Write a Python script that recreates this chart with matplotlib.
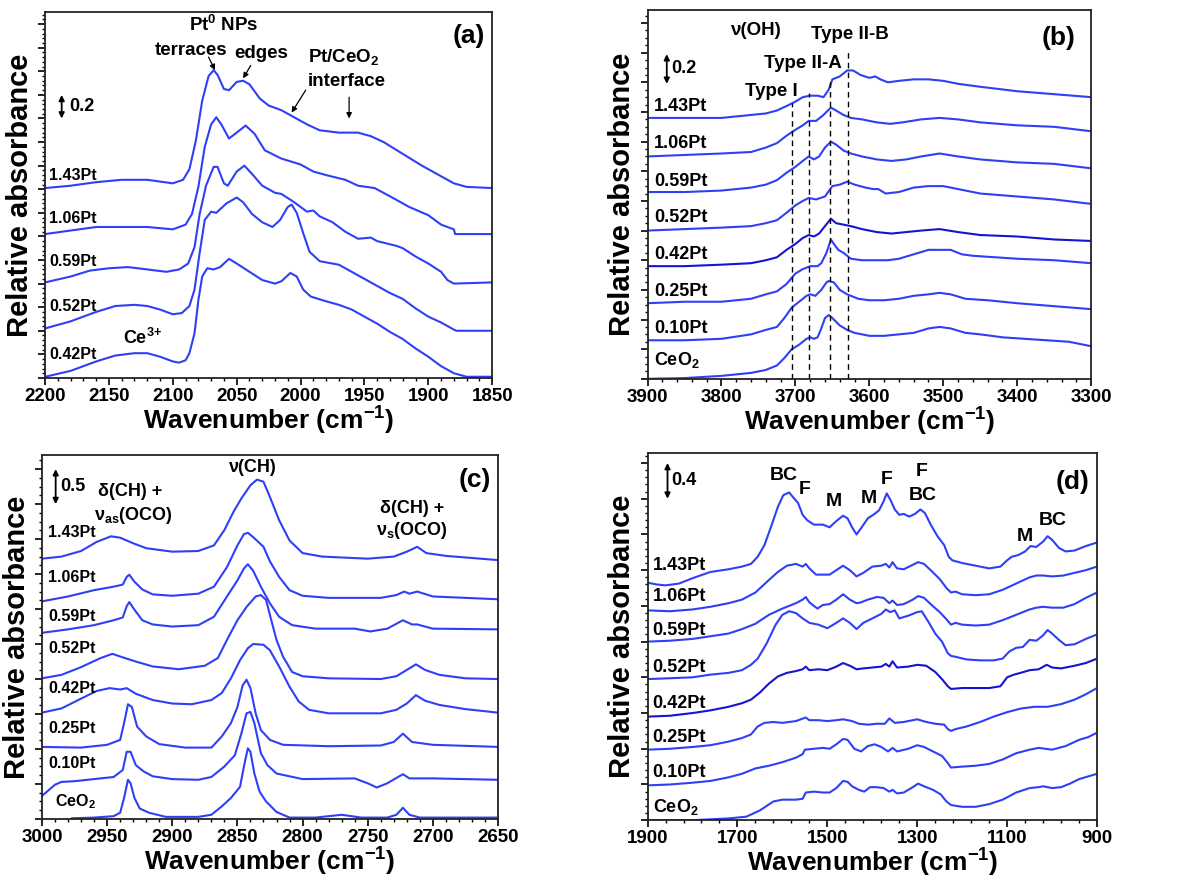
import numpy as np
import matplotlib
matplotlib.use('Agg')
import matplotlib.pyplot as plt
from matplotlib.ticker import MultipleLocator

plt.rcParams['font.family'] = ['Liberation Sans', 'DejaVu Sans']
plt.rcParams['font.weight'] = 'bold'
plt.rcParams['mathtext.fontset'] = 'custom'
plt.rcParams['mathtext.rm'] = 'Liberation Sans:bold'
plt.rcParams['mathtext.it'] = 'Liberation Sans:bold'
plt.rcParams['mathtext.bf'] = 'Liberation Sans:bold'
plt.rcParams['mathtext.default'] = 'rm'

BLUE = '#2f3ff8'
DARK = '#1414d2'

# ---------------- (a) CO region ----------------
a_042 = [(2200, 0.01), (2180, 0.06), (2160, 0.14), (2145, 0.19), (2130, 0.21), (2120, 0.21), (2110, 0.18),
         (2100, 0.14), (2095, 0.13), (2090, 0.15), (2087, 0.21), (2083, 0.38), (2080, 0.66), (2077, 0.86),
         (2073, 0.93), (2068, 0.92), (2063, 0.94), (2056, 1.01), (2050, 0.97), (2040, 0.90), (2030, 0.83),
         (2020, 0.80), (2015, 0.82), (2008, 0.89), (2003, 0.86), (1998, 0.75), (1992, 0.69), (1980, 0.65),
         (1970, 0.62), (1960, 0.58), (1950, 0.52), (1940, 0.46), (1930, 0.39), (1920, 0.33), (1910, 0.25),
         (1900, 0.18), (1890, 0.10), (1880, 0.04), (1870, 0.01), (1850, 0.01)]
a_052 = [(2200, 0.42), (2180, 0.48), (2160, 0.56), (2145, 0.61), (2130, 0.62), (2120, 0.61), (2110, 0.58),
         (2100, 0.54), (2093, 0.55), (2087, 0.61), (2083, 0.75), (2079, 1.06), (2075, 1.34), (2070, 1.41),
         (2066, 1.40), (2058, 1.48), (2050, 1.53), (2045, 1.49), (2038, 1.39), (2030, 1.32), (2022, 1.28),
         (2016, 1.34), (2010, 1.45), (2007, 1.47), (2003, 1.40), (1998, 1.23), (1993, 1.07), (1985, 0.99),
         (1970, 0.96), (1960, 0.90), (1950, 0.84), (1940, 0.78), (1930, 0.72), (1920, 0.67), (1910, 0.59),
         (1900, 0.52), (1890, 0.47), (1880, 0.41), (1878, 0.40), (1850, 0.40)]
a_059 = [(2200, 0.81), (2180, 0.86), (2165, 0.91), (2150, 0.93), (2135, 0.94), (2120, 0.92), (2105, 0.90),
         (2095, 0.92), (2088, 0.97), (2083, 1.11), (2079, 1.39), (2074, 1.63), (2068, 1.79), (2065, 1.79),
         (2060, 1.65), (2057, 1.63), (2050, 1.75), (2044, 1.80), (2038, 1.73), (2030, 1.63), (2020, 1.57),
         (2015, 1.56), (2005, 1.49), (1995, 1.41), (1990, 1.42), (1985, 1.37), (1975, 1.32), (1965, 1.24),
         (1955, 1.18), (1945, 1.19), (1940, 1.16), (1925, 1.12), (1920, 1.10), (1910, 1.03), (1900, 0.97),
         (1890, 0.90), (1885, 0.83), (1880, 0.80), (1850, 0.81)]
a_106 = [(2200, 1.22), (2180, 1.25), (2160, 1.28), (2140, 1.28), (2120, 1.28), (2100, 1.26), (2090, 1.30),
         (2085, 1.39), (2080, 1.62), (2075, 1.96), (2070, 2.15), (2066, 2.21), (2062, 2.15), (2056, 2.03),
         (2050, 2.08), (2043, 2.14), (2036, 2.07), (2028, 1.93), (2015, 1.86), (2000, 1.81), (1990, 1.75),
         (1980, 1.72), (1965, 1.68), (1955, 1.63), (1942, 1.61), (1930, 1.54), (1915, 1.45), (1900, 1.38),
         (1890, 1.30), (1880, 1.26), (1879, 1.22), (1850, 1.22)]
a_143 = [(2200, 1.61), (2180, 1.63), (2160, 1.66), (2140, 1.68), (2120, 1.68), (2100, 1.65), (2092, 1.68),
         (2087, 1.77), (2082, 2.01), (2077, 2.35), (2072, 2.56), (2068, 2.61), (2065, 2.57), (2060, 2.45),
         (2056, 2.44), (2050, 2.51), (2045, 2.52), (2040, 2.49), (2032, 2.37), (2025, 2.31), (2015, 2.27),
         (2005, 2.21), (1995, 2.15), (1985, 2.10), (1970, 2.08), (1955, 2.08), (1945, 2.05), (1935, 2.00),
         (1920, 1.90), (1905, 1.80), (1890, 1.71), (1880, 1.65), (1870, 1.62), (1850, 1.61)]
a_names = ['0.42Pt', '0.52Pt', '0.59Pt', '1.06Pt', '1.43Pt']
a_label_y = [0.20, 0.61, 0.99, 1.35, 1.72]

# ---------------- (b) OH region ----------------
b_ceo2 = [(3900, 0.00), (3850, 0.005), (3800, 0.02), (3760, 0.04), (3740, 0.06), (3725, 0.09), (3715, 0.14),
          (3705, 0.20), (3695, 0.23), (3685, 0.27), (3680, 0.28), (3675, 0.27), (3670, 0.28), (3665, 0.34),
          (3660, 0.41), (3655, 0.43), (3650, 0.41), (3640, 0.36), (3630, 0.33), (3620, 0.31), (3600, 0.29),
          (3580, 0.29), (3560, 0.30), (3540, 0.31), (3520, 0.34), (3505, 0.35), (3490, 0.34), (3470, 0.31),
          (3450, 0.30), (3420, 0.28), (3390, 0.27), (3360, 0.26), (3330, 0.25), (3300, 0.22)]
b_010 = [(3900, 0.26), (3850, 0.26), (3800, 0.27), (3760, 0.30), (3740, 0.33), (3725, 0.35), (3715, 0.41),
         (3705, 0.48), (3695, 0.52), (3685, 0.56), (3680, 0.57), (3673, 0.56), (3665, 0.60), (3658, 0.65),
         (3655, 0.66), (3648, 0.65), (3640, 0.60), (3630, 0.57), (3615, 0.54), (3600, 0.53), (3580, 0.53),
         (3560, 0.54), (3540, 0.56), (3520, 0.57), (3505, 0.58), (3490, 0.57), (3470, 0.54), (3440, 0.53),
         (3400, 0.51), (3350, 0.49), (3300, 0.47)]
b_025 = [(3900, 0.51), (3850, 0.52), (3800, 0.52), (3760, 0.54), (3740, 0.57), (3725, 0.59), (3712, 0.64),
         (3700, 0.71), (3690, 0.74), (3680, 0.76), (3670, 0.76), (3665, 0.78), (3658, 0.85), (3652, 0.94),
         (3648, 0.91), (3642, 0.87), (3635, 0.85), (3625, 0.81), (3610, 0.80), (3590, 0.80), (3575, 0.80),
         (3560, 0.81), (3540, 0.84), (3520, 0.87), (3505, 0.87), (3490, 0.87), (3475, 0.84), (3460, 0.83),
         (3430, 0.82), (3400, 0.81), (3350, 0.80), (3300, 0.78)]
b_042 = [(3900, 0.76), (3850, 0.76), (3800, 0.77), (3760, 0.78), (3740, 0.80), (3725, 0.82), (3712, 0.87),
         (3700, 0.91), (3690, 0.95), (3682, 0.97), (3675, 0.96), (3668, 0.98), (3660, 1.03), (3652, 1.08),
         (3645, 1.05), (3635, 1.04), (3625, 1.03), (3610, 1.01), (3590, 0.99), (3570, 0.98), (3550, 0.99),
         (3530, 1.00), (3505, 1.01), (3480, 0.99), (3450, 0.97), (3400, 0.96), (3350, 0.94), (3300, 0.93)]
b_052 = [(3900, 1.00), (3850, 1.01), (3800, 1.02), (3760, 1.03), (3740, 1.05), (3725, 1.07), (3712, 1.12),
         (3700, 1.17), (3690, 1.20), (3682, 1.22), (3672, 1.21), (3660, 1.23), (3650, 1.30), (3640, 1.31),
         (3630, 1.33), (3620, 1.31), (3605, 1.29), (3595, 1.28), (3588, 1.28), (3578, 1.25), (3560, 1.26),
         (3540, 1.29), (3520, 1.30), (3500, 1.30), (3480, 1.28), (3450, 1.25), (3400, 1.23), (3350, 1.21),
         (3300, 1.18)]
b_059 = [(3900, 1.26), (3850, 1.26), (3800, 1.27), (3760, 1.29), (3740, 1.31), (3725, 1.34), (3712, 1.39),
         (3700, 1.43), (3690, 1.47), (3682, 1.50), (3675, 1.48), (3668, 1.50), (3660, 1.56), (3652, 1.60),
         (3645, 1.58), (3635, 1.54), (3625, 1.52), (3610, 1.50), (3590, 1.48), (3570, 1.47), (3550, 1.48),
         (3530, 1.50), (3505, 1.52), (3480, 1.50), (3450, 1.48), (3400, 1.46), (3350, 1.45), (3300, 1.42)]
b_106 = [(3900, 1.50), (3850, 1.51), (3800, 1.52), (3760, 1.53), (3740, 1.56), (3725, 1.59), (3712, 1.64),
         (3700, 1.68), (3690, 1.71), (3682, 1.74), (3672, 1.74), (3662, 1.78), (3652, 1.83), (3645, 1.81),
         (3635, 1.78), (3625, 1.76), (3610, 1.75), (3590, 1.73), (3572, 1.72), (3555, 1.73), (3530, 1.75),
         (3505, 1.76), (3480, 1.75), (3450, 1.73), (3400, 1.71), (3350, 1.70), (3300, 1.67)]
b_143 = [(3900, 1.76), (3850, 1.76), (3800, 1.76), (3760, 1.78), (3740, 1.79), (3725, 1.81), (3712, 1.84),
         (3700, 1.87), (3690, 1.90), (3680, 1.91), (3670, 1.91), (3662, 1.90), (3655, 1.95), (3650, 2.02),
         (3640, 2.04), (3630, 2.08), (3622, 2.08), (3612, 2.05), (3600, 2.03), (3592, 2.04), (3585, 2.02),
         (3575, 2.00), (3560, 2.01), (3540, 2.02), (3520, 2.02), (3500, 2.01), (3480, 1.99), (3450, 1.97),
         (3400, 1.94), (3350, 1.92), (3300, 1.90)]
b_names = ['CeO$_2$', '0.10Pt', '0.25Pt', '0.42Pt', '0.52Pt', '0.59Pt', '1.06Pt', '1.43Pt']
b_label_y = [0.13, 0.34, 0.59, 0.84, 1.09, 1.33, 1.59, 1.84]
b_band_x = [3705, 3682, 3653, 3629]
b_band_top = [1.86, 1.93, 2.02, 2.21]

# ---------------- (c) CH region ----------------
c_ceo2 = [(2977, 0.01), (2960, 0.02), (2945, 0.04), (2940, 0.09), (2937, 0.30), (2934, 0.56), (2932, 0.51),
          (2929, 0.30), (2925, 0.15), (2918, 0.09), (2905, 0.03), (2880, 0.03), (2870, 0.06), (2862, 0.18),
          (2855, 0.30), (2848, 0.46), (2845, 0.75), (2842, 1.01), (2840, 0.96), (2837, 0.65), (2833, 0.39),
          (2828, 0.25), (2820, 0.10), (2810, 0.02), (2790, 0.02), (2770, 0.06), (2755, 0.02), (2735, 0.02),
          (2728, 0.06), (2723, 0.16), (2718, 0.06), (2710, 0.02), (2650, 0.02)]
c_010 = [(3000, 0.33), (2990, 0.49), (2985, 0.53), (2975, 0.54), (2960, 0.57), (2945, 0.60), (2938, 0.70),
         (2935, 0.96), (2932, 0.96), (2928, 0.77), (2922, 0.68), (2915, 0.61), (2900, 0.57), (2880, 0.56),
         (2870, 0.60), (2860, 0.75), (2852, 0.91), (2847, 1.22), (2843, 1.51), (2840, 1.53), (2837, 1.37),
         (2832, 0.94), (2827, 0.77), (2820, 0.65), (2800, 0.57), (2760, 0.58), (2750, 0.51), (2743, 0.45),
         (2735, 0.51), (2723, 0.64), (2718, 0.58), (2700, 0.58), (2650, 0.56)]
c_025 = [(3000, 1.03), (2970, 1.02), (2950, 1.06), (2940, 1.13), (2937, 1.37), (2934, 1.64), (2931, 1.60),
         (2927, 1.32), (2920, 1.18), (2910, 1.07), (2890, 1.02), (2870, 1.02), (2862, 1.18), (2855, 1.37),
         (2850, 1.60), (2846, 1.91), (2843, 1.99), (2840, 1.87), (2836, 1.51), (2832, 1.27), (2825, 1.13),
         (2815, 1.06), (2780, 1.04), (2740, 1.05), (2730, 1.10), (2723, 1.22), (2716, 1.10), (2700, 1.06),
         (2650, 1.03)]
c_042 = [(3000, 1.52), (2985, 1.58), (2970, 1.72), (2958, 1.83), (2948, 1.87), (2940, 1.85), (2935, 1.87),
         (2928, 1.79), (2915, 1.70), (2900, 1.65), (2885, 1.64), (2870, 1.70), (2862, 1.80), (2855, 2.01),
         (2848, 2.27), (2842, 2.44), (2838, 2.50), (2830, 2.49), (2825, 2.41), (2818, 2.18), (2810, 1.89),
         (2803, 1.68), (2795, 1.56), (2780, 1.51), (2740, 1.51), (2728, 1.56), (2720, 1.65), (2713, 1.77),
         (2706, 1.69), (2695, 1.63), (2675, 1.57), (2650, 1.52)]
c_052 = [(3000, 2.01), (2985, 2.06), (2970, 2.17), (2955, 2.30), (2946, 2.36), (2938, 2.31), (2928, 2.25),
         (2915, 2.18), (2895, 2.14), (2875, 2.19), (2865, 2.30), (2858, 2.56), (2850, 2.84), (2843, 3.03),
         (2836, 3.18), (2832, 3.20), (2828, 3.13), (2824, 2.84), (2820, 2.56), (2815, 2.32), (2808, 2.10),
         (2800, 2.04), (2780, 2.01), (2740, 2.00), (2728, 2.04), (2720, 2.13), (2713, 2.21), (2706, 2.13),
         (2695, 2.06), (2675, 2.01), (2650, 2.00)]
c_059 = [(3000, 2.66), (2980, 2.71), (2960, 2.77), (2945, 2.84), (2938, 2.88), (2935, 3.04), (2933, 3.10),
         (2929, 2.99), (2923, 2.84), (2915, 2.78), (2900, 2.75), (2880, 2.77), (2868, 2.89), (2858, 3.18),
         (2850, 3.41), (2845, 3.58), (2842, 3.64), (2838, 3.55), (2832, 3.32), (2825, 3.08), (2818, 2.89),
         (2808, 2.77), (2790, 2.72), (2760, 2.72), (2748, 2.68), (2735, 2.72), (2723, 2.84), (2716, 2.78),
         (2712, 2.78), (2700, 2.72), (2650, 2.71)]
c_106 = [(3000, 3.11), (2980, 3.18), (2960, 3.27), (2945, 3.32), (2938, 3.35), (2935, 3.46), (2933, 3.49),
         (2929, 3.39), (2923, 3.28), (2915, 3.21), (2900, 3.19), (2880, 3.22), (2868, 3.32), (2858, 3.60),
         (2850, 3.91), (2845, 4.07), (2842, 4.09), (2838, 4.03), (2830, 3.89), (2825, 3.68), (2818, 3.46),
         (2810, 3.27), (2800, 3.19), (2780, 3.16), (2740, 3.16), (2728, 3.20), (2722, 3.25), (2718, 3.22),
         (2712, 3.25), (2700, 3.18), (2650, 3.14)]
c_143 = [(3000, 3.72), (2985, 3.75), (2970, 3.83), (2958, 3.96), (2947, 4.04), (2940, 4.02), (2930, 3.94),
         (2920, 3.87), (2900, 3.82), (2880, 3.83), (2868, 3.91), (2860, 4.13), (2853, 4.39), (2847, 4.58),
         (2840, 4.77), (2835, 4.85), (2830, 4.82), (2825, 4.60), (2818, 4.27), (2810, 3.98), (2800, 3.80),
         (2785, 3.75), (2750, 3.72), (2730, 3.75), (2720, 3.82), (2712, 3.89), (2705, 3.80), (2690, 3.76),
         (2650, 3.70)]
c_names = ['CeO$_2$', '0.10Pt', '0.25Pt', '0.42Pt', '0.52Pt', '0.59Pt', '1.06Pt', '1.43Pt']
c_label_y = [0.25, 0.80, 1.30, 1.87, 2.44, 2.90, 3.45, 4.10]

# ---------------- (d) carbonate / formate region ----------------
d_ceo2 = [(1900, 0.00), (1800, 0.00), (1760, 0.01), (1720, 0.02), (1680, 0.04), (1650, 0.11), (1620, 0.21),
          (1600, 0.23), (1570, 0.23), (1555, 0.24), (1548, 0.31), (1530, 0.32), (1510, 0.31), (1495, 0.31),
          (1480, 0.36), (1465, 0.44), (1455, 0.43), (1445, 0.38), (1430, 0.34), (1418, 0.32), (1405, 0.37),
          (1390, 0.37), (1375, 0.36), (1362, 0.32), (1355, 0.34), (1345, 0.30), (1330, 0.31), (1310, 0.37),
          (1298, 0.41), (1285, 0.38), (1265, 0.34), (1248, 0.29), (1235, 0.21), (1225, 0.17), (1200, 0.15),
          (1170, 0.15), (1140, 0.18), (1110, 0.23), (1080, 0.31), (1050, 0.36), (1030, 0.37), (1020, 0.38),
          (1000, 0.36), (980, 0.37), (960, 0.41), (940, 0.46), (920, 0.49), (900, 0.52)]
d_010 = [(1900, 0.39), (1850, 0.40), (1800, 0.42), (1760, 0.44), (1720, 0.48), (1690, 0.52), (1660, 0.58),
         (1630, 0.61), (1600, 0.65), (1570, 0.70), (1555, 0.74), (1550, 0.79), (1530, 0.80), (1510, 0.81),
         (1495, 0.80), (1480, 0.85), (1465, 0.91), (1455, 0.90), (1440, 0.80), (1425, 0.77), (1410, 0.83),
         (1395, 0.85), (1380, 0.82), (1365, 0.77), (1355, 0.81), (1345, 0.77), (1320, 0.80), (1300, 0.84),
         (1285, 0.82), (1265, 0.77), (1245, 0.72), (1232, 0.64), (1225, 0.59), (1200, 0.60), (1170, 0.61),
         (1140, 0.63), (1110, 0.68), (1080, 0.75), (1050, 0.79), (1030, 0.81), (1015, 0.80), (1000, 0.79),
         (970, 0.83), (940, 0.90), (920, 0.93), (900, 0.98)]
d_025 = [(1900, 0.79), (1850, 0.80), (1800, 0.82), (1760, 0.84), (1720, 0.88), (1690, 0.92), (1670, 0.96),
         (1655, 1.05), (1640, 1.09), (1620, 1.10), (1600, 1.09), (1570, 1.11), (1548, 1.15), (1540, 1.12),
         (1520, 1.12), (1500, 1.11), (1480, 1.12), (1465, 1.13), (1445, 1.11), (1430, 1.08), (1410, 1.07),
         (1390, 1.08), (1372, 1.08), (1362, 1.14), (1350, 1.09), (1330, 1.10), (1300, 1.13), (1280, 1.10),
         (1260, 1.08), (1240, 1.07), (1232, 1.02), (1225, 1.00), (1215, 1.02), (1190, 1.05), (1160, 1.10),
         (1130, 1.16), (1100, 1.21), (1070, 1.25), (1040, 1.27), (1010, 1.27), (980, 1.30), (950, 1.35),
         (925, 1.41), (900, 1.48)]
d_042 = [(1900, 1.16), (1850, 1.17), (1800, 1.20), (1760, 1.23), (1720, 1.27), (1690, 1.31), (1670, 1.35),
         (1650, 1.43), (1630, 1.53), (1610, 1.61), (1590, 1.65), (1570, 1.67), (1555, 1.69), (1548, 1.72),
         (1540, 1.68), (1520, 1.69), (1500, 1.68), (1480, 1.72), (1465, 1.76), (1450, 1.73), (1435, 1.69),
         (1420, 1.70), (1400, 1.71), (1380, 1.72), (1370, 1.75), (1362, 1.72), (1355, 1.78), (1345, 1.71),
         (1320, 1.72), (1300, 1.74), (1280, 1.73), (1260, 1.66), (1245, 1.58), (1232, 1.50), (1225, 1.47),
         (1200, 1.48), (1170, 1.48), (1140, 1.48), (1115, 1.50), (1100, 1.60), (1085, 1.63), (1070, 1.65),
         (1050, 1.68), (1030, 1.69), (1012, 1.74), (1000, 1.71), (980, 1.70), (950, 1.73), (925, 1.76),
         (900, 1.81)]
d_052 = [(1900, 1.58), (1850, 1.59), (1800, 1.60), (1760, 1.63), (1720, 1.65), (1690, 1.68), (1670, 1.74),
         (1655, 1.81), (1635, 1.98), (1615, 2.19), (1600, 2.30), (1585, 2.34), (1570, 2.32), (1555, 2.26),
         (1540, 2.21), (1520, 2.19), (1500, 2.15), (1480, 2.21), (1465, 2.26), (1450, 2.21), (1435, 2.14),
         (1420, 2.21), (1400, 2.26), (1380, 2.31), (1370, 2.36), (1360, 2.33), (1350, 2.35), (1340, 2.26),
         (1320, 2.29), (1300, 2.33), (1290, 2.34), (1275, 2.22), (1260, 2.09), (1245, 2.00), (1232, 1.87),
         (1225, 1.84), (1215, 1.83), (1190, 1.80), (1160, 1.79), (1130, 1.79), (1110, 1.81), (1095, 1.89),
         (1080, 1.93), (1065, 1.94), (1050, 2.02), (1035, 2.01), (1020, 2.07), (1010, 2.13), (1000, 2.09),
         (985, 2.02), (970, 1.96), (950, 1.97), (925, 2.03), (900, 2.08)]
d_059 = [(1900, 2.00), (1850, 2.01), (1800, 2.03), (1760, 2.06), (1720, 2.09), (1690, 2.14), (1660, 2.20),
         (1630, 2.30), (1600, 2.37), (1570, 2.43), (1555, 2.47), (1548, 2.50), (1540, 2.44), (1530, 2.40),
         (1522, 2.37), (1510, 2.41), (1495, 2.42), (1480, 2.47), (1465, 2.53), (1450, 2.47), (1435, 2.43),
         (1425, 2.44), (1410, 2.47), (1390, 2.50), (1375, 2.49), (1362, 2.43), (1355, 2.46), (1345, 2.41),
         (1330, 2.42), (1310, 2.47), (1298, 2.51), (1285, 2.49), (1268, 2.41), (1250, 2.33), (1235, 2.25),
         (1225, 2.19), (1215, 2.21), (1200, 2.19), (1170, 2.18), (1140, 2.19), (1110, 2.24), (1080, 2.30),
         (1050, 2.36), (1035, 2.38), (1020, 2.39), (1000, 2.38), (975, 2.38), (950, 2.42), (925, 2.49),
         (900, 2.55)]
d_106 = [(1900, 2.35), (1850, 2.34), (1800, 2.36), (1760, 2.39), (1720, 2.43), (1690, 2.47), (1660, 2.55),
         (1630, 2.69), (1610, 2.78), (1590, 2.85), (1570, 2.87), (1555, 2.84), (1548, 2.87), (1540, 2.82),
         (1525, 2.75), (1510, 2.75), (1495, 2.75), (1480, 2.80), (1465, 2.85), (1450, 2.80), (1435, 2.73),
         (1420, 2.77), (1400, 2.84), (1380, 2.85), (1370, 2.87), (1362, 2.83), (1355, 2.89), (1345, 2.82),
         (1330, 2.81), (1310, 2.86), (1298, 2.89), (1285, 2.87), (1268, 2.79), (1250, 2.70), (1235, 2.60),
         (1225, 2.55), (1215, 2.56), (1200, 2.53), (1170, 2.52), (1140, 2.53), (1110, 2.58), (1080, 2.65),
         (1050, 2.72), (1035, 2.74), (1020, 2.74), (1000, 2.73), (975, 2.74), (950, 2.77), (925, 2.80),
         (900, 2.84)]
d_143 = [(1900, 2.66), (1880, 2.64), (1860, 2.63), (1830, 2.65), (1800, 2.71), (1760, 2.78), (1720, 2.81),
         (1690, 2.84), (1670, 2.87), (1655, 2.95), (1640, 3.08), (1625, 3.29), (1610, 3.51), (1598, 3.64),
         (1585, 3.67), (1575, 3.61), (1565, 3.55), (1555, 3.42), (1545, 3.36), (1530, 3.31), (1510, 3.31),
         (1495, 3.28), (1480, 3.35), (1465, 3.41), (1455, 3.38), (1445, 3.28), (1435, 3.20), (1425, 3.27),
         (1410, 3.38), (1395, 3.43), (1385, 3.47), (1375, 3.57), (1368, 3.66), (1360, 3.59), (1350, 3.48),
         (1340, 3.42), (1330, 3.43), (1318, 3.40), (1305, 3.43), (1293, 3.48), (1283, 3.44), (1270, 3.31),
         (1255, 3.18), (1240, 3.08), (1230, 2.95), (1222, 2.91), (1200, 2.88), (1170, 2.85), (1140, 2.82),
         (1115, 2.84), (1100, 2.91), (1090, 2.95), (1075, 2.97), (1060, 3.01), (1048, 3.07), (1035, 3.06),
         (1020, 3.12), (1010, 3.18), (1000, 3.14), (985, 3.05), (970, 3.01), (950, 3.02), (925, 3.07),
         (900, 3.11)]
d_names = ['CeO$_2$', '0.10Pt', '0.25Pt', '0.42Pt', '0.52Pt', '0.59Pt', '1.06Pt', '1.43Pt']
d_label_y = [0.15, 0.53, 0.93, 1.31, 1.71, 2.12, 2.50, 2.85]


def setup(ax, xlim, ylim, xmajor, xminor, ymajor, yminor, xoff=0, xoff_minor=0):
    ax.set_xlim(*xlim)
    ax.set_ylim(*ylim)
    ax.xaxis.set_major_locator(MultipleLocator(xmajor, offset=xoff))
    ax.xaxis.set_minor_locator(MultipleLocator(xminor, offset=xoff_minor))
    ax.yaxis.set_major_locator(MultipleLocator(ymajor))
    ax.yaxis.set_minor_locator(MultipleLocator(yminor))
    ax.set_yticklabels([])
    ax.tick_params(axis='both', which='major', direction='out', length=5, width=1.2, labelsize=13.5, pad=2)
    ax.tick_params(axis='both', which='minor', direction='out', length=2.5, width=1)
    ax.tick_params(top=False, right=False)
    for lab in ax.get_xticklabels():
        lab.set_fontweight('bold')
    for s in ax.spines.values():
        s.set_linewidth(1.3)
        s.set_color('#222222')
    ax.set_xlabel('Wavenumber (cm$^{-1}$)', fontsize=19, fontweight='bold', labelpad=0)
    ax.set_ylabel('Relative absorbance', fontsize=21, fontweight='bold', labelpad=1)


def draw(ax, curves, dark=None):
    for i, c in enumerate(curves):
        x, y = np.array(c).T
        col = DARK if i == dark else BLUE
        ax.plot(x, y, color=col, lw=1.5, solid_joinstyle='round')


def scale_bar(ax, x, y0, size, tx):
    ax.annotate('', xy=(x, y0), xytext=(x, y0 + size),
                arrowprops=dict(arrowstyle='<|-|>', lw=1.3, color='k', mutation_scale=8, shrinkA=0, shrinkB=0))
    ax.text(tx, y0 + size / 2, str(size), fontsize=13, fontweight='bold', va='center', ha='left')


fig = plt.figure(figsize=(11.86, 8.81), dpi=100)

# (a)
ax = fig.add_axes([0.038, 0.571, 0.377, 0.415])
setup(ax, (2200, 1850), (0, 3.10), 50, 10, 0.2, 0.04)
draw(ax, [a_042, a_052, a_059, a_106, a_143])
for name, y in zip(a_names, a_label_y):
    ax.text(2197, y, name, fontsize=11.5, fontweight='bold', va='center', ha='left')
scale_bar(ax, 2187, 2.20, 0.2, 2181)
ax.text(1868, 2.90, '(a)', fontsize=19, fontweight='bold', ha='center', va='center')
ax.text(2060, 2.99, 'Pt$^0$ NPs', fontsize=13.5, fontweight='bold', ha='center', va='center')
ax.text(2086, 2.78, 'terraces', fontsize=13.5, fontweight='bold', ha='center', va='center')
ax.text(2031, 2.75, 'edges', fontsize=13.5, fontweight='bold', ha='center', va='center')
ax.text(1966, 2.72, 'Pt/CeO$_2$', fontsize=13.5, fontweight='bold', ha='center', va='center')
ax.text(1964, 2.51, 'interface', fontsize=13.5, fontweight='bold', ha='center', va='center')
ax.text(2124, 0.34, 'Ce$^{3{+}}$', fontsize=13, fontweight='bold', ha='center', va='center')
arr = dict(arrowstyle='-|>', lw=0.9, color='k', mutation_scale=8, shrinkA=0, shrinkB=0)
ax.annotate('', xy=(2067, 2.61), xytext=(2072, 2.72), arrowprops=arr)
ax.annotate('', xy=(2045, 2.54), xytext=(2039, 2.65), arrowprops=arr)
ax.annotate('', xy=(2007, 2.25), xytext=(1996, 2.44), arrowprops=arr)
ax.annotate('', xy=(1962, 2.20), xytext=(1962, 2.38), arrowprops=arr)

# (b)
ax = fig.add_axes([0.546, 0.570, 0.374, 0.419])
setup(ax, (3900, 3300), (0, 2.49), 100, 20, 0.2, 0.05)
draw(ax, [b_ceo2, b_010, b_025, b_042, b_052, b_059, b_106, b_143], dark=3)
for name, y in zip(b_names, b_label_y):
    ax.text(3891, y, name, fontsize=13, fontweight='bold', va='center', ha='left')
for xb, top in zip(b_band_x, b_band_top):
    ax.plot([xb, xb], [0, top], color='k', ls=(0, (4, 3)), lw=1)
scale_bar(ax, 3874, 1.99, 0.2, 3868)
ax.text(3344, 2.30, '(b)', fontsize=19, fontweight='bold', ha='center', va='center')
ax.text(3754, 2.35, '\u03bd(OH)', fontsize=13.5, fontweight='bold', ha='center', va='center')
ax.text(3627, 2.32, 'Type II-B', fontsize=13.5, fontweight='bold', ha='center', va='center')
ax.text(3690, 2.13, 'Type II-A', fontsize=13.5, fontweight='bold', ha='center', va='center')
ax.text(3732, 1.94, 'Type I', fontsize=13.5, fontweight='bold', ha='center', va='center')

# (c)
ax = fig.add_axes([0.0354, 0.0704, 0.3845, 0.413])
setup(ax, (3000, 2650), (0, 5.2), 50, 10, 0.5, 0.125)
draw(ax, [c_ceo2, c_010, c_025, c_042, c_052, c_059, c_106, c_143])
for name, y in zip(c_names, c_label_y):
    xl = 2990 if name.startswith('CeO') else 2995
    ax.text(xl, y, name, fontsize=11.5, fontweight='bold', va='center', ha='left')
scale_bar(ax, 2989.5, 4.5, 0.5, 2986)
ax.text(2668, 4.84, '(c)', fontsize=19, fontweight='bold', ha='center', va='center')
ax.text(2838, 5.02, '\u03bd(CH)', fontsize=13, fontweight='bold', ha='center', va='center')
ax.text(2932, 4.68, '\u03b4(CH) +', fontsize=13, fontweight='bold', ha='center', va='center')
ax.text(2930, 4.34, '\u03bd$_{as}$(OCO)', fontsize=13, fontweight='bold', ha='center', va='center')
ax.text(2716, 4.44, '\u03b4(CH) +', fontsize=13, fontweight='bold', ha='center', va='center')
ax.text(2716, 4.12, '\u03bd$_s$(OCO)', fontsize=13, fontweight='bold', ha='center', va='center')

# (d)
ax = fig.add_axes([0.546, 0.069, 0.379, 0.4166])
setup(ax, (1900, 900), (0, 4.11), 200, 40, 0.4, 0.08, xoff=100, xoff_minor=20)
draw(ax, [d_ceo2, d_010, d_025, d_042, d_052, d_059, d_106, d_143], dark=3)
for name, y in zip(d_names, d_label_y):
    ax.text(1889, y, name, fontsize=13, fontweight='bold', va='center', ha='left')
scale_bar(ax, 1855.6, 3.6, 0.4, 1848)
ax.text(955, 3.79, '(d)', fontsize=19, fontweight='bold', ha='center', va='center')
for t, x, y in [('BC', 1598, 3.86), ('F', 1550, 3.70), ('M', 1485, 3.57), ('M', 1407, 3.60),
                ('F', 1368, 3.82), ('F', 1290, 3.91), ('BC', 1287, 3.64), ('M', 1061, 3.18),
                ('BC', 998, 3.36)]:
    ax.text(x, y, t, fontsize=14, fontweight='bold', ha='center', va='center')

fig.savefig('out.png', dpi=100)
